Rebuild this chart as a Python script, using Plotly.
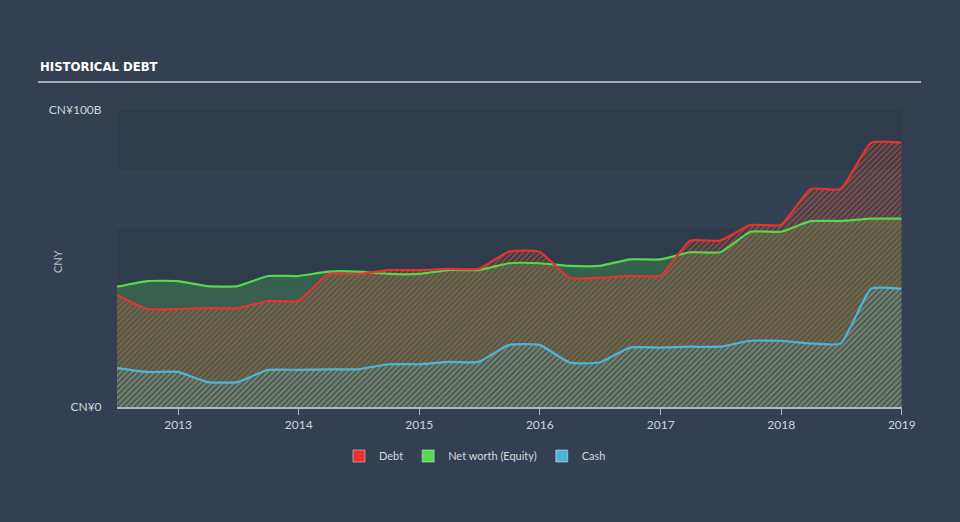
import plotly.graph_objects as go

dates = ["2012-06-30", "2012-09-30", "2012-12-31", "2013-03-31", "2013-06-30",
         "2013-09-30", "2013-12-31", "2014-03-31", "2014-06-30", "2014-09-30",
         "2014-12-31", "2015-03-31", "2015-06-30", "2015-09-30", "2015-12-31",
         "2016-03-31", "2016-06-30", "2016-09-30", "2016-12-31", "2017-03-31",
         "2017-06-30", "2017-09-30", "2017-12-31", "2018-03-31", "2018-06-30",
         "2018-09-30", "2018-12-31"]

debt = [37.7, 33.0, 33.0, 33.3, 33.3, 35.7, 35.7, 44.7, 44.7, 46.1, 46.1, 46.5, 46.5,
        52.3, 52.3, 43.5, 43.5, 44.2, 44.2, 56.0, 56.0, 61.3, 61.3, 73.4, 73.4, 89.0, 89.0]
equity = [40.5, 42.4, 42.4, 40.7, 40.7, 44.1, 44.1, 45.6, 45.6, 44.8, 44.8, 46.1, 46.1,
          48.4, 48.4, 47.5, 47.5, 49.7, 49.7, 52.1, 52.1, 59.0, 59.0, 62.6, 62.6, 63.4, 63.4]
cash = [13.1, 11.8, 11.8, 8.4, 8.4, 12.5, 12.5, 12.7, 12.7, 14.4, 14.4, 15.2, 15.2,
        20.9, 20.9, 15.0, 15.0, 20.0, 20.0, 20.3, 20.3, 22.3, 22.3, 21.4, 21.4, 39.8, 39.8]

series_names = ["Debt", "Net worth (Equity)", "Cash"]
year_ticks = ["2013-01-01", "2014-01-01", "2015-01-01", "2016-01-01",
              "2017-01-01", "2018-01-01", "2019-01-01"]
year_labels = ["2013", "2014", "2015", "2016", "2017", "2018", "2019"]
y_tickvals = [0, 100]
y_ticktext = ["CN¥0", "CN¥100B"]

RED = "#e8322f"
GREEN = "#55d94b"
BLUE = "#4bb6da"
BG = "#344051"
FONT = "Lato"
SMOOTH = 0.45

fig = go.Figure()

# Equity solid fill
fig.add_trace(go.Scatter(x=dates, y=equity, mode="lines", fill="tozeroy",
                         fillcolor="rgba(80,170,85,0.33)",
                         line=dict(width=0, shape="spline", smoothing=SMOOTH),
                         showlegend=False, hoverinfo="skip"))
# Debt hatch fill
fig.add_trace(go.Scatter(x=dates, y=debt, mode="lines", fill="tozeroy",
                         fillcolor="rgba(0,0,0,0)",
                         fillpattern=dict(shape="/", fgcolor="rgba(232,88,52,1)",
                                          bgcolor="rgba(0,0,0,0)", size=4, solidity=0.5,
                                          fillmode="overlay"),
                         line=dict(width=0, shape="spline", smoothing=SMOOTH),
                         showlegend=False, hoverinfo="skip"))
# Cash hatch fill
fig.add_trace(go.Scatter(x=dates, y=cash, mode="lines", fill="tozeroy",
                         fillcolor="rgba(0,0,0,0)",
                         fillpattern=dict(shape="/", fgcolor="rgba(100,175,200,0.8)",
                                          bgcolor="rgba(0,0,0,0)", size=4, solidity=0.5,
                                          fillmode="overlay"),
                         line=dict(width=0, shape="spline", smoothing=SMOOTH),
                         showlegend=False, hoverinfo="skip"))

# Lines on top
for vals, col in [(equity, GREEN), (debt, RED), (cash, BLUE)]:
    fig.add_trace(go.Scatter(x=dates, y=vals, mode="lines",
                             line=dict(width=2.2, color=col, shape="spline", smoothing=SMOOTH),
                             showlegend=False, hoverinfo="skip"))

# Legend entries (square swatches)
for name, col in zip(series_names, [RED, GREEN, BLUE]):
    fig.add_trace(go.Bar(x=[None], y=[None], name=name, marker_color=col))

# background bands
shapes = []
for y0, y1, c in [(80, 100, "#2e3c4c"), (60, 80, "#334153"), (40, 60, "#2e3c4c"),
                  (20, 40, "#2f3d4e"), (0, 20, "#2e3c4c")]:
    shapes.append(dict(type="rect", xref="paper", yref="y", x0=0, x1=1, y0=y0, y1=y1,
                       fillcolor=c, line=dict(width=0), layer="below"))
# title underline
shapes.append(dict(type="line", xref="paper", yref="paper", x0=-0.1006, x1=1.0242,
                   y0=1.0943, y1=1.0943, line=dict(color="#a3adb8", width=2)))

fig.update_layout(
    width=960, height=522,
    margin=dict(l=117, r=58, t=110, b=115),
    paper_bgcolor=BG, plot_bgcolor=BG,
    font=dict(family=FONT, color="#cfd4da", size=12),
    shapes=shapes,
    showlegend=True,
    legend=dict(orientation="h", x=0.456, xanchor="center", y=-0.165, yanchor="middle",
                font=dict(size=11, color="#d5d9de"), bgcolor="rgba(0,0,0,0)",
                itemclick=False),
    annotations=[
        dict(text="<b>HISTORICAL DEBT</b>", xref="paper", yref="paper",
             x=-0.1006, y=1.1448, xanchor="left", yanchor="middle", showarrow=False,
             font=dict(family="Liberation Sans Narrow, DejaVu Sans Condensed, Roboto Condensed, Roboto",
                       size=13, color="#ffffff")),
        dict(text="CNY", xref="paper", yref="paper", x=-0.0764, y=0.488,
             xanchor="center", yanchor="middle", textangle=-90, showarrow=False,
             font=dict(size=11, color="#b8bfc7")),
    ],
    xaxis=dict(type="date", range=["2012-06-30", "2019-01-01 12:00"],
               tickvals=year_ticks, ticktext=year_labels,
               showgrid=False, zeroline=False, showline=True, linecolor="#aeb6c0",
               linewidth=1.5, ticks="outside", ticklen=6, tickcolor="#aeb6c0",
               tickfont=dict(size=12, color="#cfd4da")),
    yaxis=dict(range=[0, 100], tickvals=y_tickvals, ticktext=y_ticktext,
               showgrid=False, zeroline=False, showline=False,
               ticks="outside", ticklen=12, tickcolor="rgba(0,0,0,0)",
               tickfont=dict(size=12, color="#cfd4da")),
)

fig.write_html("out.html")
